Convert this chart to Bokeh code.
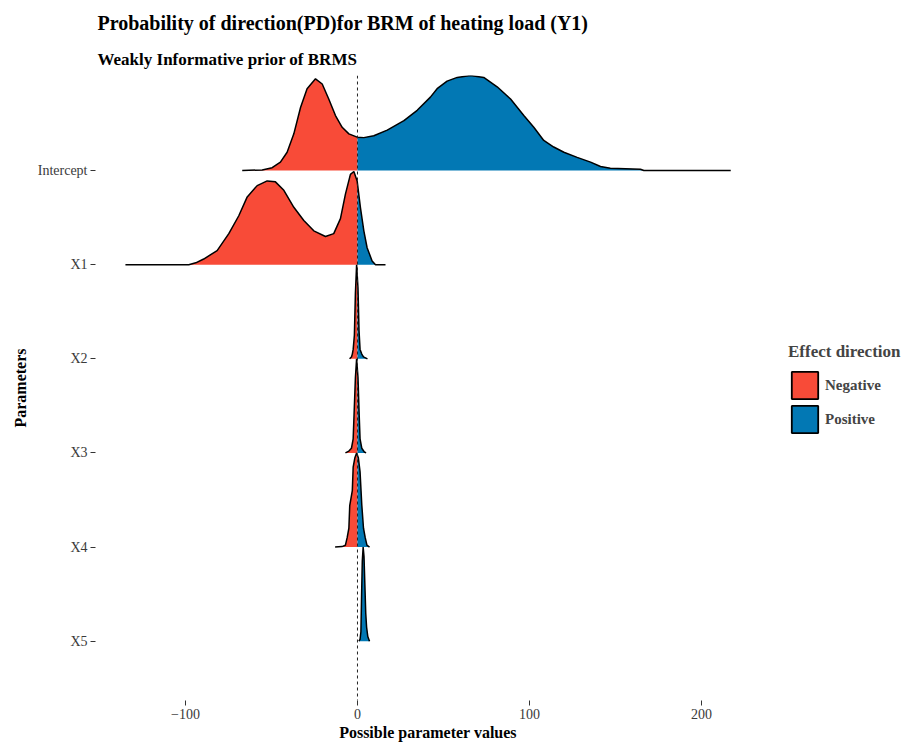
from bokeh.plotting import figure
from bokeh.layouts import row
from bokeh.models import Span, Legend, LegendItem, Title, FixedTicker
from bokeh.embed import file_html
from bokeh.resources import INLINE

# Posterior densities per parameter, normalised so the tallest ridge is about 1 row high.
parameters = ["Intercept", "X1", "X2", "X3", "X4", "X5"]

intercept_x = [-67, -55.4, -49.6, -44.8, -40.9, -37, -33.1, -29.3, -24.4, -20.5, -16.7,
               -12.8, -8.9, -5, -0.2, 3.7, 9.5, 17.3, 27, 34.7, 42.4, 46.3, 52.1, 58,
               65.7, 73.4, 81.2, 89, 96.7, 102.5, 108.3, 114.1, 120, 127.7, 135.5,
               141.3, 147, 164.5, 166.5, 217]
intercept_d = [0, 0.007, 0.03, 0.09, 0.195, 0.39, 0.67, 0.87, 0.975, 0.92, 0.76,
               0.585, 0.46, 0.39, 0.355, 0.35, 0.37, 0.43, 0.53, 0.64, 0.78, 0.87, 0.95, 0.99,
               1.01, 0.99, 0.89, 0.76, 0.585, 0.46, 0.32, 0.25, 0.195, 0.14, 0.09,
               0.043, 0.025, 0.014, 0, 0]

x1_x = [-134.9, -98.1, -94, -89.4, -81.6, -74.8, -69, -64.1, -58.3, -52.5, -47.7, -42.8,
        -37, -31.2, -25.4, -18.6, -13.8, -9.9, -7, -4.1, -2.1, -0.2, 1.7, 3.7, 5.6,
        8.5, 10.5, 16.3]
x1_d = [0, 0, 0.02, 0.06, 0.15, 0.33, 0.52, 0.72, 0.84, 0.89, 0.88, 0.79,
        0.61, 0.47, 0.36, 0.30, 0.33, 0.49, 0.75, 0.96, 0.99, 0.89, 0.61, 0.36, 0.18,
        0.04, 0, 0]

x2_x = [-4.6, -3.5, -3, -2.5, -1.8, -1.2, -0.5, 0.3, 0.9, 1.5, 2.5, 3.5, 5.8]
x2_d = [0, 0.02, 0.05, 0.1, 0.25, 0.7, 1.0, 0.75, 0.3, 0.1, 0.05, 0.02, 0]

x3_x = [-7, -5, -3.5, -2.5, -2, -1.2, -0.5, 0.3, 1, 1.5, 2.5, 4, 5]
x3_d = [0, 0.02, 0.05, 0.15, 0.4, 0.8, 1.0, 0.8, 0.4, 0.15, 0.05, 0.01, 0]

x4_x = [-13, -9, -7, -6, -5, -4.5, -3, -2.5, -1.5, -0.5, 0.5, 1.5, 2.5, 3.5, 4.5, 5.5, 7]
x4_d = [0, 0.005, 0.02, 0.1, 0.2, 0.44, 0.6, 0.85, 0.95, 1.0, 0.95, 0.8, 0.45, 0.2, 0.1, 0.02, 0]

x5_x = [0.8, 1.5, 2, 2.4, 2.8, 3.3, 3.8, 4.3, 4.8, 5.3, 6, 7]
x5_d = [0, 0.02, 0.1, 0.5, 0.85, 1.0, 0.9, 0.6, 0.3, 0.15, 0.05, 0]

densities = {
    "Intercept": (intercept_x, intercept_d),
    "X1": (x1_x, x1_d),
    "X2": (x2_x, x2_d),
    "X3": (x3_x, x3_d),
    "X4": (x4_x, x4_d),
    "X5": (x5_x, x5_d),
}

x_ticks = [-100, 0, 100, 200]
x_tick_labels = ["\u2212100", "0", "100", "200"]
directions = ["Negative", "Positive"]

NEG_COLOR = "#F84B38"
POS_COLOR = "#0278B4"
SERIF = "Liberation Serif"
ridge_scale = 1.0

# rows: Intercept on top, X5 at the bottom
row_of = {name: len(parameters) - i for i, name in enumerate(parameters)}

p = figure(width=760, height=744, x_range=(-152.3, 234.3), y_range=(0.37, 7.01),
           output_backend="svg", toolbar_location=None,
           min_border_left=95, min_border_right=0, min_border_bottom=44,
           min_border_top=75)
p.title = None
p.outline_line_color = None
p.xgrid.visible = False
p.ygrid.visible = False


def split_at_zero(xs, ds):
    """Split a density curve into the part left of zero and the part right of it."""
    neg_x, neg_d, pos_x, pos_d = [], [], [], []
    for i, (x, d) in enumerate(zip(xs, ds)):
        if x <= 0:
            neg_x.append(x)
            neg_d.append(d)
        if x >= 0:
            pos_x.append(x)
            pos_d.append(d)
        if i + 1 < len(xs) and x < 0 < xs[i + 1]:
            x2, d2 = xs[i + 1], ds[i + 1]
            d0 = d + (d2 - d) * (0 - x) / (x2 - x)
            neg_x.append(0.0)
            neg_d.append(d0)
            pos_x.append(0.0)
            pos_d.append(d0)
    return (neg_x, neg_d), (pos_x, pos_d)


for name in parameters:
    xs, ds = densities[name]
    base = row_of[name]
    (nx, nd), (px, pd) = split_at_zero(xs, ds)
    for sx, sd, col in ((nx, nd, NEG_COLOR), (px, pd, POS_COLOR)):
        if len(sx) > 1:
            poly_x = [sx[0]] + sx + [sx[-1]]
            poly_y = [base] + [base + ridge_scale * d for d in sd] + [base]
            p.patch(poly_x, poly_y, fill_color=col, line_color=None)
    p.line(xs, [base + ridge_scale * d for d in ds], line_color="black", line_width=1.5)

p.add_layout(Span(location=0, dimension="height", line_color="#222222",
                  line_dash="3 3", line_width=1))

# axes
p.xaxis.ticker = FixedTicker(ticks=x_ticks)
p.xaxis.major_label_overrides = dict(zip(x_ticks, x_tick_labels))
p.yaxis.ticker = FixedTicker(ticks=[row_of[n] for n in parameters])
p.yaxis.major_label_overrides = {row_of[n]: n for n in parameters}
p.xaxis.axis_label = "Possible parameter values"
p.yaxis.axis_label = "Parameters"
for ax in (p.xaxis, p.yaxis):
    ax.axis_line_color = None
    ax.minor_tick_line_color = None
    ax.major_tick_in = 0
    ax.major_tick_out = 5
    ax.major_tick_line_color = "#333333"
    ax.major_label_text_font = SERIF
    ax.major_label_text_font_size = "14px"
    ax.major_label_text_color = "#3a3a3a"
    ax.axis_label_text_font = SERIF
    ax.axis_label_text_font_size = "16px"
    ax.axis_label_text_font_style = "bold"
    ax.axis_label_text_color = "black"
p.xaxis.major_label_standoff = 3
p.xaxis.axis_label_standoff = 2
p.yaxis.major_label_standoff = 3
p.yaxis.axis_label_standoff = 6

# titles, stacked upwards from the plot frame
p.add_layout(Title(text="Weakly Informative prior of BRMS", align="left", offset=2,
                   standoff=13,
                   text_font=SERIF, text_font_size="17px", text_font_style="bold",
                   text_color="black"), "above")
p.add_layout(Title(text="Probability of direction(PD)for BRM of heating load (Y1)",
                   align="left", offset=2, standoff=15,
                   text_font=SERIF, text_font_size="20px",
                   text_font_style="bold", text_color="black"), "above")

# legend panel to the right of the ridges
lg = figure(width=147, height=744, x_range=(0, 1), y_range=(0, 1),
            output_backend="svg", toolbar_location=None,
            min_border_left=0, min_border_right=0, min_border_top=0, min_border_bottom=0)
lg.title = None
lg.axis.visible = False
lg.grid.visible = False
lg.outline_line_color = None
r_neg = lg.quad(left=[5], right=[6], bottom=[5], top=[6], fill_color=NEG_COLOR,
                line_color="black", line_width=1.8)
r_pos = lg.quad(left=[5], right=[6], bottom=[5], top=[6], fill_color=POS_COLOR,
                line_color="black", line_width=1.8)
# keys are drawn inset by 10%, so the negative spacing makes them touch
legend = Legend(items=[LegendItem(label=directions[0], renderers=[r_neg]),
                       LegendItem(label=directions[1], renderers=[r_pos])],
                title="Effect direction", location=(28, 264),
                glyph_width=33, glyph_height=34, spacing=-7, padding=5, margin=0,
                label_standoff=4, border_line_color=None, background_fill_alpha=0,
                title_text_font=SERIF, title_text_font_size="17px",
                title_text_font_style="bold", title_standoff=6,
                label_text_font=SERIF, label_text_font_size="15px",
                label_text_font_style="bold")
lg.add_layout(legend)

layout = row(p, lg)
open("out.html", "w").write(file_html(layout, INLINE))
